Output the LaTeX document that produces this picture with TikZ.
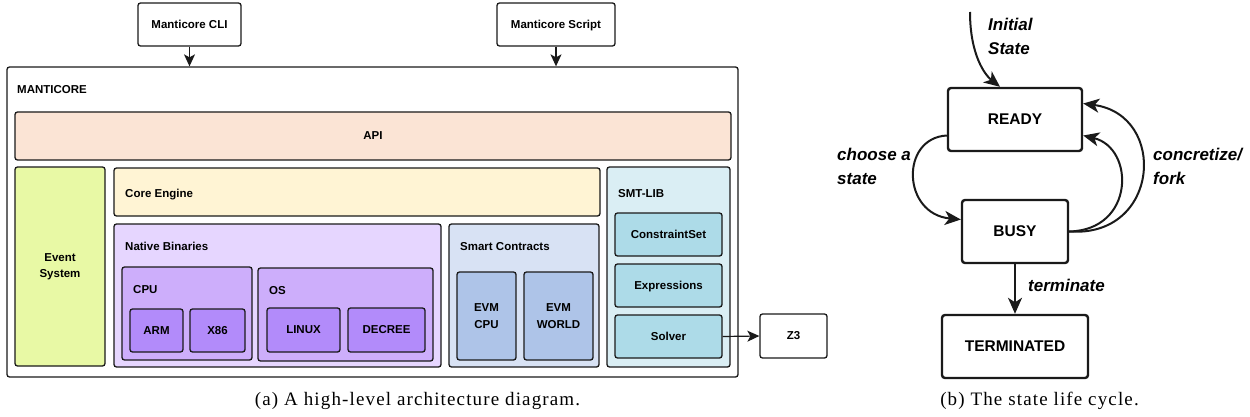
\documentclass[tikz,border=0pt]{standalone}
\usepackage{fontspec}
\setmainfont{Liberation Serif}
\setsansfont{Liberation Sans}
\usetikzlibrary{arrows.meta,calc}
\definecolor{apiC}{HTML}{FBE4D5}
\definecolor{evC}{HTML}{E8F9A5}
\definecolor{coreC}{HTML}{FFF4D4}
\definecolor{natC}{HTML}{E6D6FF}
\definecolor{midC}{HTML}{CDAEFB}
\definecolor{leafC}{HTML}{B28BFA}
\definecolor{scC}{HTML}{D8E2F4}
\definecolor{evmC}{HTML}{AEC4E8}
\definecolor{smtC}{HTML}{DAEEF4}
\definecolor{smtleafC}{HTML}{ADDBE8}
\definecolor{lineC}{HTML}{1A1A1A}
% \mkbox{style}{name}{x1}{y1}{x2}{y2}{text}
\newcommand{\mkbox}[7]{%
  \node[#1, minimum width={(#5-#3)*1pt}, minimum height={(#6-#4)*1pt}]
    (#2) at ({(#3+#5)/2},{(#4+#6)/2}) {#7};}
\begin{document}
\begin{tikzpicture}[x=1pt,y=-1pt,
  bx/.style={draw=lineC, line width=1.3pt, rounded corners=2.5pt, inner sep=0pt,
    font=\sffamily\bfseries\fontsize{11.5}{16.5}\selectfont, align=center},
  nodepth/.style={text depth=0pt},
  lbl/.style={anchor=base west, inner sep=0pt, font=\sffamily\bfseries\fontsize{11.5}{14}\selectfont},
  arr/.style={draw=lineC, line width=1.2pt, -{Stealth[length=12pt,width=11pt,inset=3pt]}},
  st/.style={draw=lineC, line width=2.4pt, rounded corners=3pt, inner sep=0pt, fill=white,
    font=\sffamily\bfseries\fontsize{15.5}{18}\selectfont},
  sarr/.style={draw=lineC, line width=2pt, -{Stealth[length=16pt,width=14pt,inset=4.5pt]}},
  slbl/.style={anchor=west, inner sep=0pt, align=left,
    font=\sffamily\bfseries\itshape\fontsize{17}{24}\selectfont},
  captxt/.style={anchor=base, inner sep=0pt,
    font=\rmfamily\fontsize{19}{22}\selectfont\addfontfeature{LetterSpace=6}},
]
\useasboundingbox (0,0) rectangle (1250,417);

% ---------- (a) architecture ----------
\mkbox{bx, fill=white}{cli}{138}{3}{241}{46}{Manticore CLI}
\mkbox{bx, fill=white, nodepth}{script}{497}{3}{615}{46}{Manticore Script}

\mkbox{bx, fill=white}{mant}{7}{67}{738}{377}{}
\node[lbl] (mantL) at (17,94) {MANTICORE};

\mkbox{bx, fill=apiC}{api}{15}{112}{731}{160}{API}
\mkbox{bx, fill=evC}{ev}{15}{167}{105}{366}{Event\\System}

\mkbox{bx, fill=coreC}{core}{114}{168}{600}{216}{}
\node[lbl] (coreL) at (125,197) {Core Engine};

\mkbox{bx, fill=natC}{nat}{114}{224}{441}{367}{}
\node[lbl] (natL) at (125,250) {Native Binaries};

\mkbox{bx, fill=midC}{cpu}{122}{267}{252}{360}{}
\node[lbl] (cpuL) at (133,293) {CPU};
\mkbox{bx, fill=leafC}{arm}{130}{309}{183}{352}{ARM}
\mkbox{bx, fill=leafC}{x86}{190}{309}{245}{352}{X86}

\mkbox{bx, fill=midC}{os}{258}{268}{433}{361}{}
\node[lbl] (osL) at (269,294) {OS};
\mkbox{bx, fill=leafC}{linux}{267}{308}{340}{352}{LINUX}
\mkbox{bx, fill=leafC}{decree}{348}{308}{425}{352}{DECREE}

\mkbox{bx, fill=scC}{sc}{449}{224}{599}{367}{}
\node[lbl] (scL) at (460,250) {Smart Contracts};
\mkbox{bx, fill=evmC}{evmcpu}{457}{272}{516}{360}{EVM\\CPU}
\mkbox{bx, fill=evmC}{evmw}{524}{272}{593}{360}{EVM\\WORLD}

\mkbox{bx, fill=smtC}{smt}{607}{167}{730}{367}{}
\node[lbl] (smtL) at (618,197) {SMT-LIB};
\mkbox{bx, fill=smtleafC}{cs}{615}{213}{722}{256}{ConstraintSet}
\mkbox{bx, fill=smtleafC, nodepth}{ex}{615}{264}{722}{307}{Expressions}
\mkbox{bx, fill=smtleafC}{sol}{615}{315}{722}{358}{Solver}

\mkbox{bx, fill=white}{z3}{760}{314}{827}{358}{Z3}

\draw[arr] (cli.south) -- (cli.south |- mant.north);
\draw[arr] (script.south) -- (script.south |- mant.north);
\draw[arr] (sol.east) -- (z3.west);

\node[captxt] (capa) at (417.5,405) {(a) A high-level architecture diagram.};

% ---------- (b) state life cycle ----------
\mkbox{st}{ready}{948}{88}{1082}{151}{READY}
\mkbox{st}{busy}{962}{200}{1068}{263}{BUSY}
\mkbox{st}{term}{942}{315}{1088}{378}{TERMINATED}

\coordinate (init) at (970,12);
\draw[sarr] (init) .. controls (970,55) and (985,75) .. ($(ready.north)+(-15,0)$);
\draw[sarr] ($(ready.west)+(0,16)$) .. controls (900,138) and (902,214) .. ($(busy.west)+(0,-12)$);
\draw[sarr] (busy.east) .. controls (1135,230) and (1135,148) .. ($(ready.east)+(0,16)$);
\draw[sarr] (busy.east) .. controls (1160,238) and (1168,115) .. ($(ready.east)+(0,-16)$);
\draw[sarr] (busy.south) -- (term.north);

\node[slbl] (initL) at (988,36) {Initial\\State};
\node[slbl] (chooseL) at (837,166) {choose a\\state};
\node[slbl] (concL) at (1153,166) {concretize/\\fork};
\node[slbl] (termL) at (1028,285) {terminate};

\node[captxt] (capb) at (1039.5,405) {(b) The state life cycle.};
\end{tikzpicture}
\end{document}
